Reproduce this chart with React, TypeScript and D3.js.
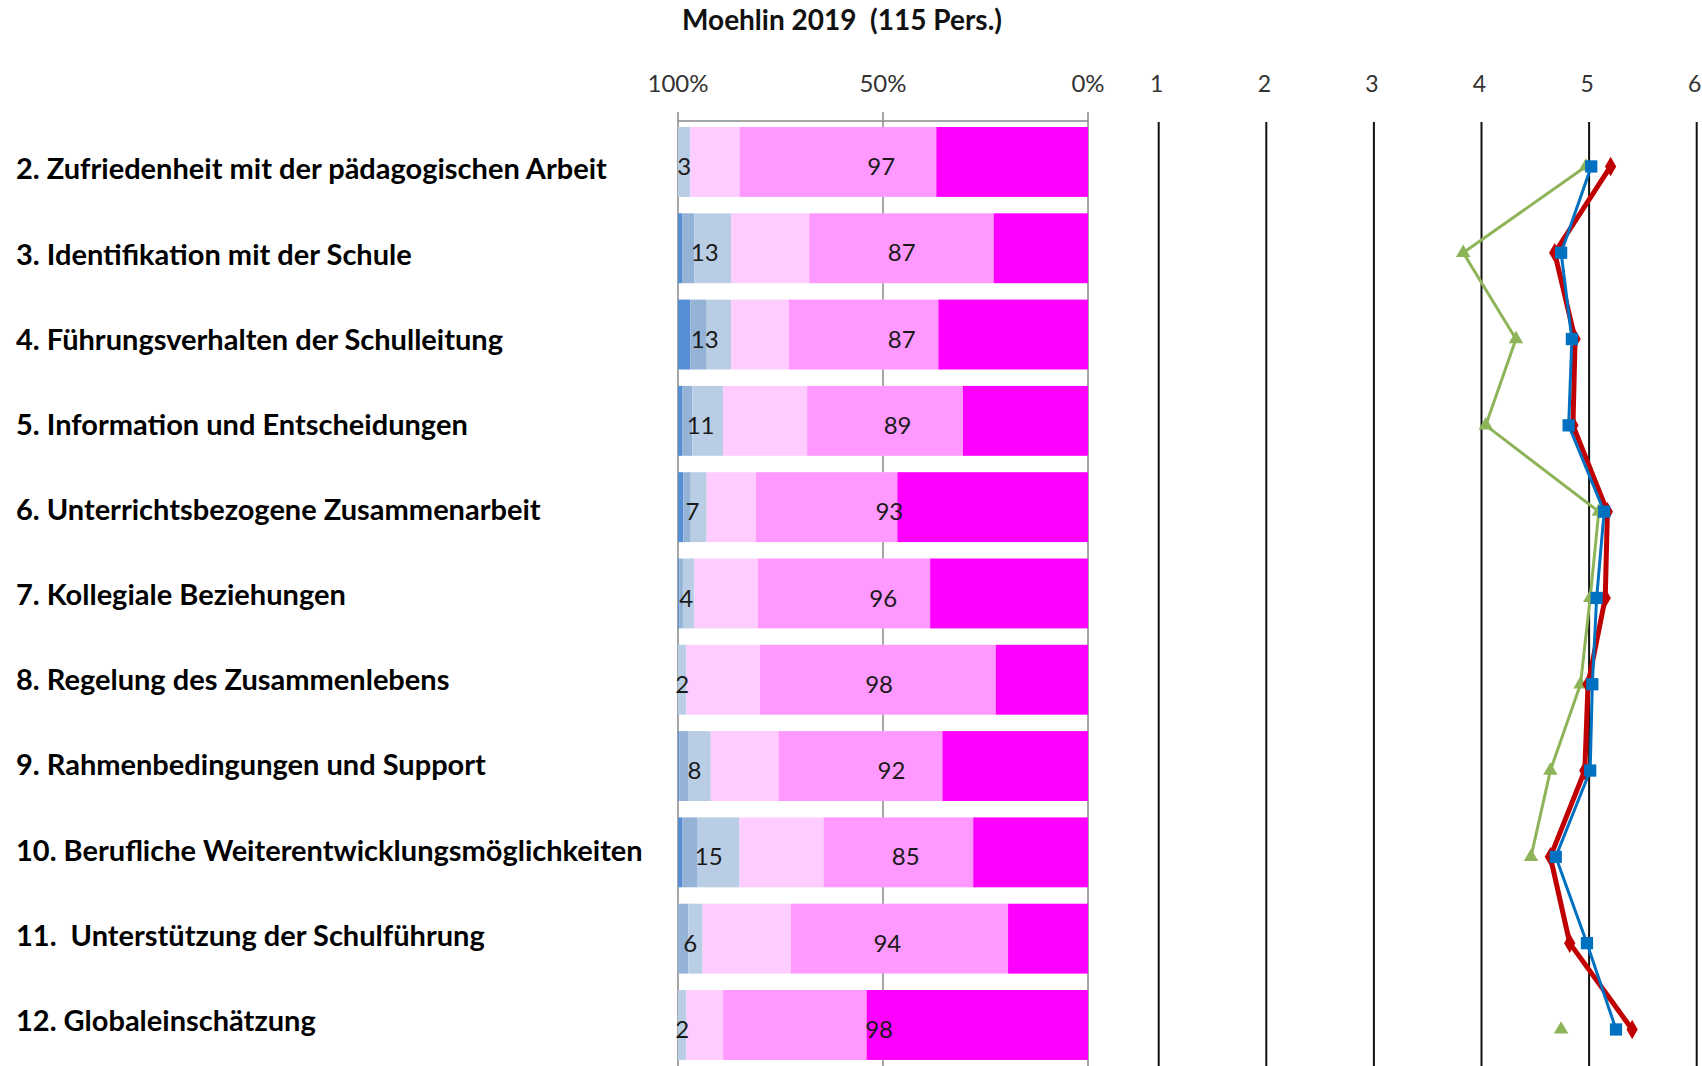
import React from "react";
import * as d3 from "d3";

const categories = [
  "2. Zufriedenheit mit der pädagogischen Arbeit",
  "3. Identifikation mit der Schule",
  "4. Führungsverhalten der Schulleitung",
  "5. Information und Entscheidungen",
  "6. Unterrichtsbezogene Zusammenarbeit",
  "7. Kollegiale Beziehungen",
  "8. Regelung des Zusammenlebens",
  "9. Rahmenbedingungen und Support",
  "10. Berufliche Weiterentwicklungsmöglichkeiten",
  "11.  Unterstützung der Schulführung",
  "12. Globaleinschätzung",
];

// answer shares in percent, from "trifft gar nicht zu" to "trifft völlig zu"
const share1 = [0, 1, 3, 1, 1.3, 0.3, 0, 0.3, 1, 0, 0];
const share2 = [0, 3, 4, 2.5, 1.8, 0.9, 0, 2.3, 3.8, 2.5, 0];
const share3 = [3, 9, 6, 7.5, 3.9, 2.8, 2, 5.4, 10.2, 3.5, 2];
const share4 = [12, 19, 14, 20.5, 12, 15.5, 18, 16.5, 20.5, 21.5, 9];
const share5 = [48, 45, 36.5, 38, 34.5, 42, 57.5, 40, 36.5, 53, 35];
const share6 = [37, 23, 36.5, 30.5, 46.5, 38.5, 22.5, 35.5, 28, 19.5, 54];

const negLabels = [3, 13, 13, 11, 7, 4, 2, 8, 15, 6, 2];
const posLabels = [97, 87, 87, 89, 93, 96, 98, 92, 85, 94, 98];

// means on the 1..6 scale
const meanRed = [5.2, 4.68, 4.87, 4.85, 5.17, 5.15, 4.99, 4.96, 4.64, 4.82, 5.4];
const meanBlue = [5.02, 4.74, 4.84, 4.81, 5.14, 5.07, 5.03, 5.01, 4.69, 4.98, 5.25];
const meanGreen = [4.97, 3.83, 4.32, 4.04, 5.09, 5.01, 4.92, 4.64, 4.46, null, 4.74];

const pctTicks = [100, 50, 0];
const scaleTicks = [1, 2, 3, 4, 5, 6];

const keys = ["s1", "s2", "s3", "s4", "s5", "s6"];
const segColors = ["#558ED5", "#95B3D7", "#B9CDE5", "#FFCCFF", "#FF99FF", "#FF00FF"];

const W = 1702;
const H = 1066;
const FONT = "Lato, 'DejaVu Sans', sans-serif";

export default function App() {
  const rows = categories.map((c, i) => ({
    cat: c,
    s1: share1[i],
    s2: share2[i],
    s3: share3[i],
    s4: share4[i],
    s5: share5[i],
    s6: share6[i],
  }));
  const stacked = d3.stack<any>().keys(keys).offset(d3.stackOffsetExpand)(rows);

  const xPct = d3.scaleLinear().domain([100, 0]).range([678, 1088]);
  const xMean = d3.scaleLinear().domain([1, 6]).range([1158.7, 1696.7]);

  const y = d3
    .scaleBand()
    .domain(categories)
    .range([118.8, 1068.1])
    .paddingInner(0.19)
    .paddingOuter(0.095);
  const yPt = d3
    .scalePoint()
    .domain(categories)
    .range([118.8 + 4.5, 1068.1 + 4.5])
    .padding(0.5);
  // category axis labels sit on their own, slightly tighter axis
  const yLab = d3.scalePoint().domain(categories).range([169, 1020.5]);

  const textOff = 4.5;
  const pos = (frac: number) => xPct(100 - frac * 100);

  const lineGen = d3
    .line<number | null>()
    .defined((d) => d != null)
    .x((d) => xMean(d as number))
    .y((_d, i) => yPt(categories[i]) as number);

  const diamond = d3.symbol().type(d3.symbolDiamond).size(110)();
  const square = d3.symbol().type(d3.symbolSquare).size(150)();
  const triangle = d3.symbol().type(d3.symbolTriangle).size(90)();

  const series = [
    { vals: meanGreen, color: "#8EB45A", width: 3, marker: triangle },
    { vals: meanRed, color: "#C00000", width: 5, marker: diamond },
    { vals: meanBlue, color: "#0070C0", width: 3, marker: square },
  ];

  return (
    <svg
      width={W}
      height={H}
      style={{ position: "absolute", left: 0, top: 0, background: "#fff" }}
      fontFamily={FONT}
    >
      <text
        x={842}
        y={29.5}
        textAnchor="middle"
        fontSize={28}
        fontWeight="bold"
        fill="#111"
        style={{ whiteSpace: "pre" }}
      >
        Moehlin 2019  (115 Pers.)
      </text>

      {/* category labels */}
      {categories.map((c) => (
        <text
          key={c}
          x={16}
          y={yLab(c)}
          dy="0.36em"
          fontSize={29}
          fontWeight="bold"
          fill="#000"
          style={{ whiteSpace: "pre" }}
        >
          {c}
        </text>
      ))}

      {/* percent axis */}
      <line x1={xPct(100)} x2={xPct(0)} y1={121} y2={121} stroke="#898989" strokeWidth={1.5} />
      {pctTicks.map((t) => (
        <g key={t}>
          <line x1={xPct(t)} x2={xPct(t)} y1={112} y2={H} stroke="#898989" strokeWidth={1.5} />
          <text x={xPct(t)} y={92} textAnchor="middle" fontSize={24} fill="#333">
            {t}%
          </text>
        </g>
      ))}

      {/* stacked bars */}
      {stacked.map((layer, k) => (
        <g key={keys[k]} fill={segColors[k]}>
          {layer.map((d, i) => (
            <rect
              key={i}
              x={pos(d[0])}
              y={y(categories[i])}
              width={Math.max(0, pos(d[1]) - pos(d[0]))}
              height={y.bandwidth()}
            />
          ))}
        </g>
      ))}

      {/* data labels */}
      {categories.map((c, i) => {
        const negEnd = stacked[2][i][1];
        const cy = (y(c) as number) + y.bandwidth() / 2 + textOff;
        return (
          <g key={c} fontSize={24} fill="#1a1a1a" textAnchor="middle">
            <text x={(pos(0) + pos(negEnd)) / 2} y={cy} dy="0.36em">
              {negLabels[i]}
            </text>
            <text x={(pos(negEnd) + pos(1)) / 2 - 8} y={cy} dy="0.36em">
              {posLabels[i]}
            </text>
          </g>
        );
      })}

      {/* mean scale gridlines */}
      {scaleTicks.map((t) => (
        <g key={t}>
          <line x1={xMean(t)} x2={xMean(t)} y1={122} y2={H} stroke="#111" strokeWidth={2} />
          <text x={xMean(t) - 2} y={92} textAnchor="middle" fontSize={23} fill="#333">
            {t}
          </text>
        </g>
      ))}

      {/* mean lines */}
      {series.map((s, si) => (
        <g key={si}>
          <path d={lineGen(s.vals) || ""} fill="none" stroke={s.color} strokeWidth={s.width} strokeLinejoin="round" />
          {s.vals.map((v, i) =>
            v == null ? null : (
              <path
                key={i}
                d={s.marker as string}
                transform={`translate(${xMean(v)},${yPt(categories[i])})`}
                fill={s.color}
              />
            )
          )}
        </g>
      ))}
    </svg>
  );
}
